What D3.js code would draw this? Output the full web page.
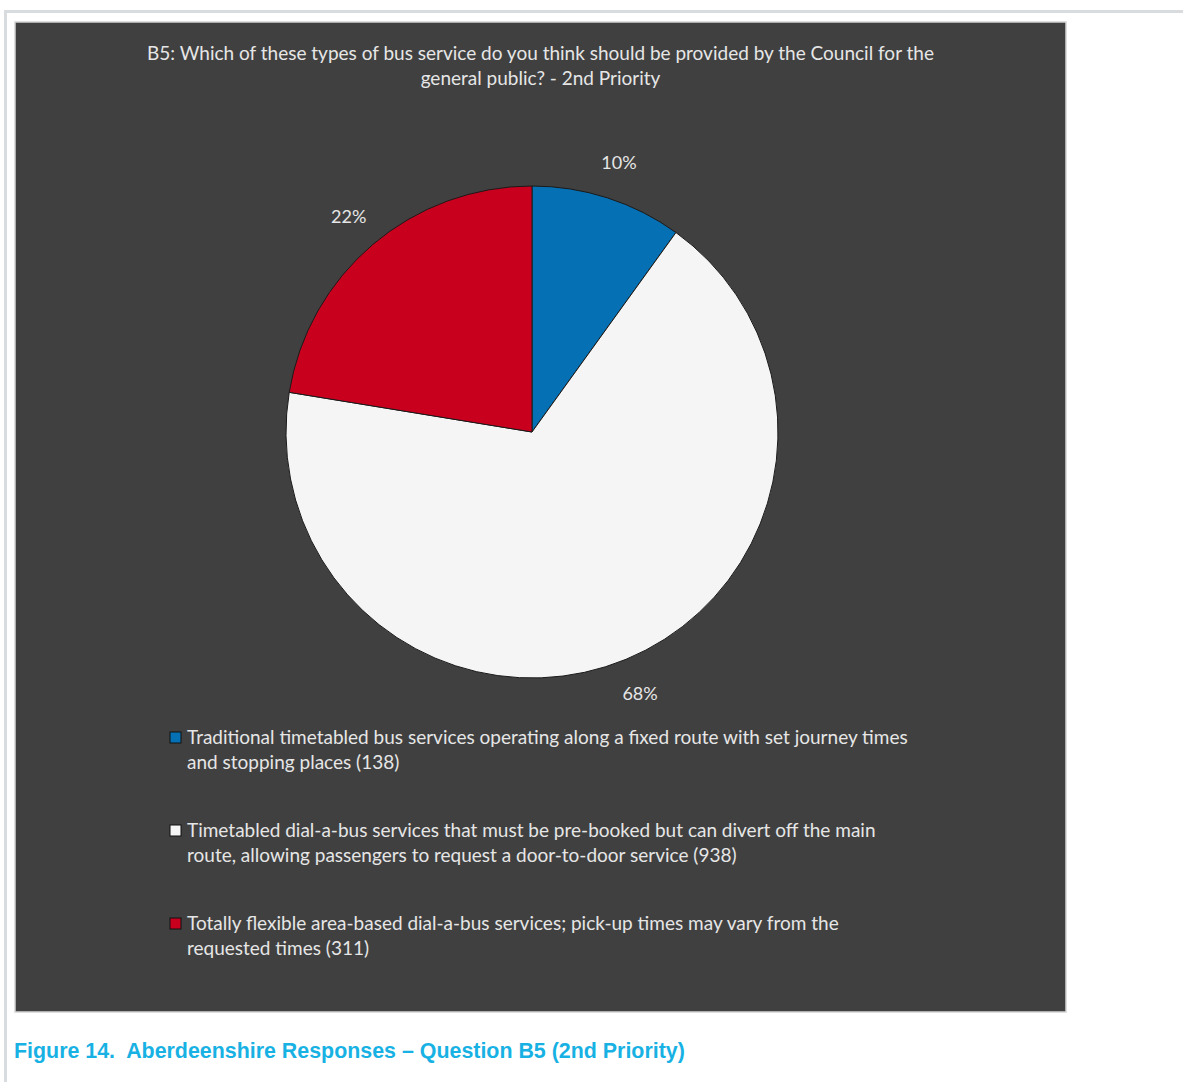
<!DOCTYPE html>
<meta charset="utf-8">
<style>
body { margin: 0; background: #fff; }
.chart-text { font-family: Lato, "Open Sans", sans-serif; fill: #e6e6e6; }
.caption { font-family: "Liberation Sans", Arial, sans-serif; font-weight: bold; fill: #17b1e3; white-space: pre; }
</style>
<svg width="1183" height="1082"></svg>
<script src="https://d3js.org/d3.v7.min.js"></script>
<script>

// data
var categories = [
  "Traditional timetabled bus services operating along a fixed route with set journey times and stopping places (138)",
  "Timetabled dial-a-bus services that must be pre-booked but can divert off the main route, allowing passengers to request a door-to-door service (938)",
  "Totally flexible area-based dial-a-bus services; pick-up times may vary from the requested times (311)"
];
var counts = [138, 938, 311];
var colors = ["#0570b3", "#f5f5f5", "#c8001e"];
var title_lines = [
  "B5: Which of these types of bus service do you think should be provided by the Council for the",
  "general public? - 2nd Priority"
];
var caption = "Figure 14.  Aberdeenshire Responses \u2013 Question B5 (2nd Priority)";

var svg = d3.select("svg"),
    width = +svg.attr("width"),
    height = +svg.attr("height");

// page frame
svg.append("rect").attr("x", 4).attr("y", 10).attr("width", width - 4).attr("height", 3).attr("fill", "#d9dcdf");
svg.append("rect").attr("x", 4).attr("y", 10).attr("width", 3).attr("height", height - 10).attr("fill", "#d9dcdf");

// dark chart panel
var panel = {x: 15, y: 22, w: 1051, h: 990};
svg.append("rect")
    .attr("x", panel.x).attr("y", panel.y)
    .attr("width", panel.w).attr("height", panel.h)
    .attr("fill", "#404040")
    .attr("stroke", "#d4d4d4")
    .attr("stroke-width", 1.5);

// title
svg.append("g").selectAll("text")
  .data(title_lines)
  .enter().append("text")
    .attr("class", "chart-text")
    .attr("x", panel.x + panel.w / 2)
    .attr("y", function(d, i) { return 60 + i * 25; })
    .attr("text-anchor", "middle")
    .style("font-size", "19px")
    .text(function(d) { return d; });

// pie
var cx = 532, cy = 432, radius = 246;
var total = d3.sum(counts);
var fmt = d3.format(".0%");

var pie = d3.pie().sort(null).value(function(d) { return d; });
var arc = d3.arc().innerRadius(0).outerRadius(radius);
var labelArc = d3.arc().innerRadius(283).outerRadius(283);

var g = svg.append("g").attr("transform", "translate(" + cx + "," + cy + ")");

g.selectAll("path")
  .data(pie(counts))
  .enter().append("path")
    .attr("d", arc)
    .attr("fill", function(d, i) { return colors[i]; })
    .attr("stroke", "#1a1a1a")
    .attr("stroke-width", 1);

g.selectAll("text")
  .data(pie(counts))
  .enter().append("text")
    .attr("class", "chart-text")
    .attr("transform", function(d) { return "translate(" + labelArc.centroid(d) + ")"; })
    .attr("dy", "0.35em")
    .attr("text-anchor", "middle")
    .style("font-size", "18px")
    .text(function(d) { return fmt(d.value / total); });

// legend
var legend = svg.append("g").selectAll("g")
  .data(categories)
  .enter().append("g")
    .attr("transform", function(d, i) { return "translate(170," + (732 + i * 93) + ")"; });

legend.append("rect")
    .attr("width", 11).attr("height", 11)
    .attr("fill", function(d, i) { return colors[i]; })
    .attr("stroke", "#111")
    .attr("stroke-width", 1);

legend.append("text")
    .attr("class", "chart-text")
    .attr("x", 17)
    .attr("y", 12)
    .style("font-size", "19px")
    .each(function(d) { wrap(d3.select(this), d, 730); });

function wrap(text, str, maxWidth) {
  var words = str.split(" "), line = [];
  var tspan = text.append("tspan").attr("x", 17).attr("dy", 0);
  words.forEach(function(w) {
    line.push(w);
    tspan.text(line.join(" "));
    if (tspan.node().getComputedTextLength() > maxWidth && line.length > 1) {
      line.pop();
      tspan.text(line.join(" "));
      line = [w];
      tspan = text.append("tspan").attr("x", 17).attr("dy", 25).text(w);
    }
  });
}

// figure caption
svg.append("text")
    .attr("class", "caption")
    .attr("x", 14)
    .attr("y", 1058)
    .style("font-size", "21.4px")
    .text(caption);

</script>
